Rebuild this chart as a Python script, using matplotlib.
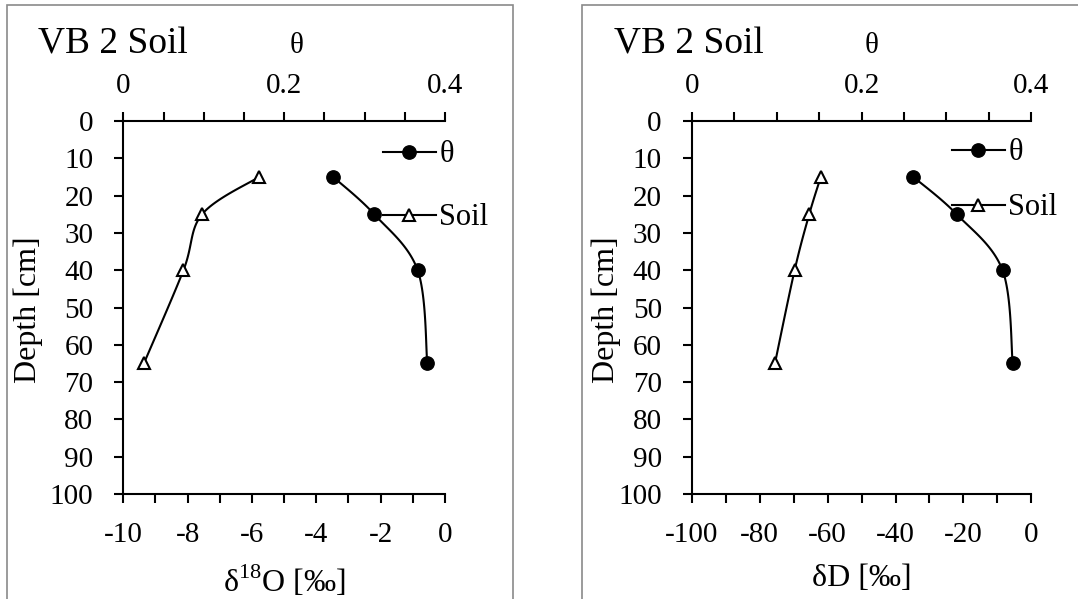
import numpy as np
import matplotlib
matplotlib.use("Agg")
import matplotlib.pyplot as plt
from matplotlib.lines import Line2D
from matplotlib.patches import Rectangle
from matplotlib.ticker import MultipleLocator, FuncFormatter

plt.rcParams["font.family"] = ["Liberation Serif", "DejaVu Serif"]
plt.rcParams["mathtext.fontset"] = "custom"
plt.rcParams["mathtext.rm"] = "Liberation Serif"

# VB 2 soil profile
depth = [15, 25, 40, 65]
theta = [0.261, 0.312, 0.366, 0.378]
soil_d18o = [-5.78, -7.55, -8.13, -9.36]
soil_dd = [-62.0, -65.4, -69.7, -75.5]

W, H = 1078, 599
TICK_FS = 21
LABEL_FS = 23
LEG_FS = 22
LW = 1.5


def smooth(x, y, n=30):
    # bezier smoothing through the points (Catmull-Rom style control points)
    x = np.asarray(x, float)
    y = np.asarray(y, float)
    px = np.concatenate([[x[0]], x, [x[-1]]])
    py = np.concatenate([[y[0]], y, [y[-1]]])
    xs, ys = [], []
    t = np.linspace(0, 1, n)[:, None]
    for i in range(1, len(px) - 2):
        p0 = np.array([px[i], py[i]])
        p3 = np.array([px[i + 1], py[i + 1]])
        c1 = p0 + (p3 - np.array([px[i - 1], py[i - 1]])) / 6
        c2 = p3 - (np.array([px[i + 2], py[i + 2]]) - p0) / 6
        b = (1 - t) ** 3 * p0 + 3 * (1 - t) ** 2 * t * c1 \
            + 3 * (1 - t) * t ** 2 * c2 + t ** 3 * p3
        xs.extend(b[:, 0])
        ys.extend(b[:, 1])
    return xs, ys


def every(step):
    return FuncFormatter(
        lambda v, p: f"{v:g}" if abs(v / step - round(v / step)) < 1e-6 else "")


def panel(fig, left_px, width_px, iso, xlim, xstep, xlabel_step, xlabel,
          ylabel_x, theta_x, leg_x, leg_top, leg_space):
    ax_h = 494 - 121
    ax = fig.add_axes([left_px / W, 1 - 494 / H, width_px / W, ax_h / H])
    ax.set_xlim(*xlim)
    ax.set_ylim(100, 0)
    ax.xaxis.set_major_locator(MultipleLocator(xstep))
    ax.xaxis.set_major_formatter(every(xlabel_step))
    ax.yaxis.set_major_locator(MultipleLocator(10))
    for s in ("top", "right"):
        ax.spines[s].set_visible(False)
    for s in ("left", "bottom"):
        ax.spines[s].set_linewidth(LW)
    ax.tick_params(axis="x", direction="out", length=6.5, width=LW,
                   labelsize=TICK_FS, pad=14)
    ax.tick_params(axis="y", direction="out", length=6.5, width=LW,
                   labelsize=TICK_FS, pad=15)
    ax.set_xlabel(xlabel, fontsize=LABEL_FS)
    ax.xaxis.set_label_coords(0.5, (494 - 564) / ax_h)
    ax.xaxis.label.set_va("top")
    ax.set_ylabel("Depth [cm]", fontsize=LABEL_FS)
    ax.yaxis.set_label_coords((ylabel_x - left_px) / width_px, 0.495)

    sx, sy = smooth(iso, depth)
    ax.plot(sx, sy, color="black", lw=LW)
    ax.plot(iso, depth, ls="none", marker="^", ms=8, mfc="white",
            mec="black", mew=1.5)

    tx = ax.twiny()
    tx.set_xlim(0, 0.4)
    tx.set_ylim(100, 0)
    tx.xaxis.set_major_locator(MultipleLocator(0.05))
    tx.xaxis.set_major_formatter(every(0.2))
    for s in ("bottom", "left", "right"):
        tx.spines[s].set_visible(False)
    tx.spines["top"].set_linewidth(LW)
    tx.tick_params(direction="out", length=6.5, width=LW,
                   labelsize=TICK_FS, pad=9)
    tx.set_xlabel("θ", fontsize=TICK_FS)
    tx.xaxis.set_label_coords((theta_x - left_px) / width_px, 1 + (121 - 53) / ax_h)
    tx.xaxis.label.set_va("baseline")
    cx, cy = smooth(theta, depth)
    tx.plot(cx, cy, color="black", lw=LW)
    tx.plot(theta, depth, ls="none", marker="o", ms=9.6, mfc="black", mec="black")

    handles = [
        Line2D([], [], color="black", lw=LW, marker="o", ms=9.6, mfc="black"),
        Line2D([], [], color="black", lw=LW, marker="^", ms=8, mfc="white", mew=1.5),
    ]
    fig.legend(handles, ["θ", "Soil"], loc="upper left",
               bbox_to_anchor=(leg_x / W, 1 - leg_top / H), frameon=False,
               fontsize=LEG_FS, handlelength=1.74, handletextpad=0.11,
               labelspacing=leg_space, borderpad=0, borderaxespad=0)
    return ax


fig = plt.figure(figsize=(W / 100, H / 100), dpi=100)

# chart-area frames
fig.patches.append(Rectangle((7 / W, -0.1), (512.7 - 7) / W, 1.1 - 5.3 / H,
                             transform=fig.transFigure, fill=False,
                             ec="#8a8a8a", lw=1.2))
fig.patches.append(Rectangle((582 / W, -0.1), 0.6, 1.1 - 5.3 / H,
                             transform=fig.transFigure, fill=False,
                             ec="#8a8a8a", lw=1.2))

panel(fig, 123.3, 321.7, soil_d18o, (-10, 0), 1, 2, r"δ$^{\mathrm{18}}$O [‰]",
      43.3, 296.5, 382.7, 140.5, 1.11)
panel(fig, 691.7, 339.7, soil_dd, (-100, 0), 10, 20, "δD [‰]",
      620.6, 871.8, 951.8, 138.5, 0.85)

fig.text(37.9 / W, 1 - 53.3 / H, "VB 2 Soil", fontsize=27, va="baseline")
fig.text(613.8 / W, 1 - 53.3 / H, "VB 2 Soil", fontsize=27, va="baseline")

fig.savefig("out.png", dpi=100)
